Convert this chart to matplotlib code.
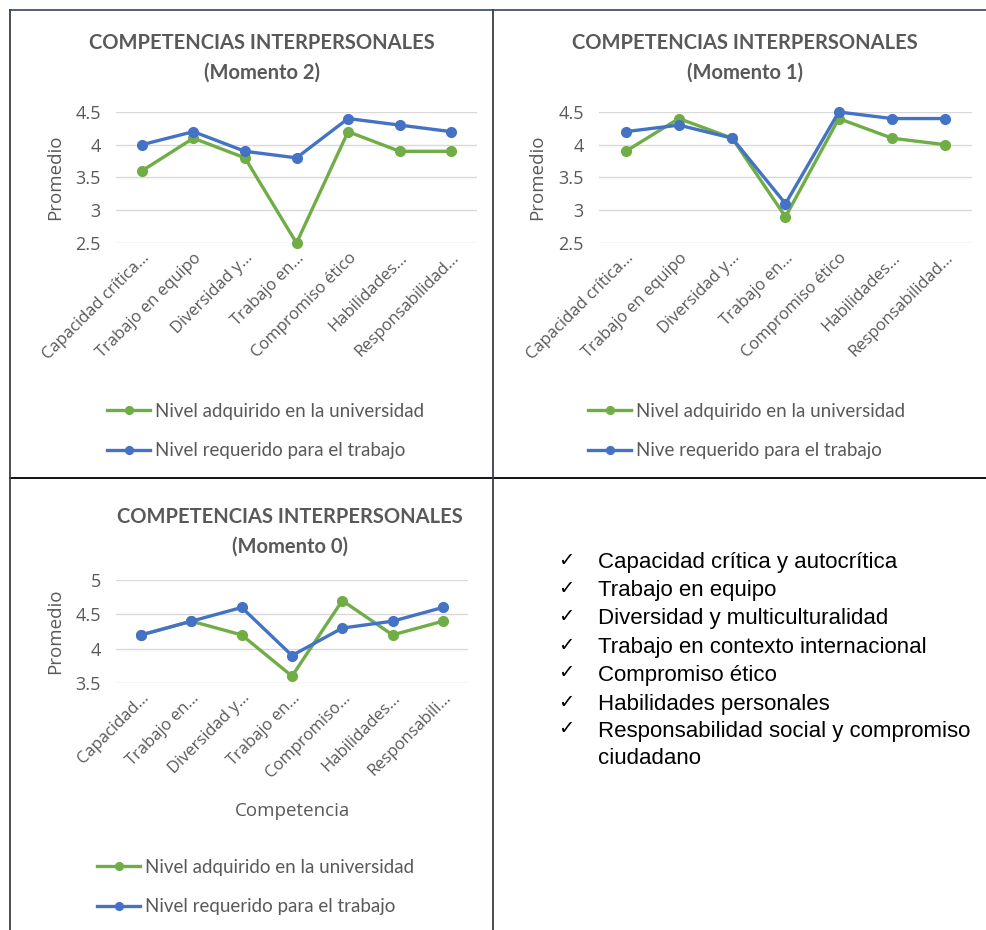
import matplotlib
matplotlib.use("Agg")
import matplotlib.pyplot as plt
from matplotlib.lines import Line2D

W, H = 987, 930

labels_full = ["Capacidad crítica…", "Trabajo en equipo", "Diversidad y…", "Trabajo en…",
               "Compromiso ético", "Habilidades…", "Responsabilidad…"]
labels_short = ["Capacidad…", "Trabajo en…", "Diversidad y…", "Trabajo en…",
                "Compromiso…", "Habilidades…", "Responsabili…"]

m2_adquirido = [3.6, 4.1, 3.8, 2.5, 4.2, 3.9, 3.9]
m2_requerido = [4.0, 4.2, 3.9, 3.8, 4.4, 4.3, 4.2]
m1_adquirido = [3.9, 4.4, 4.1, 2.9, 4.4, 4.1, 4.0]
m1_requerido = [4.2, 4.3, 4.1, 3.1, 4.5, 4.4, 4.4]
m0_adquirido = [4.2, 4.4, 4.2, 3.6, 4.7, 4.2, 4.4]
m0_requerido = [4.2, 4.4, 4.6, 3.9, 4.3, 4.4, 4.6]

competencias = ["Capacidad crítica y autocrítica", "Trabajo en equipo",
                "Diversidad y multiculturalidad", "Trabajo en contexto internacional",
                "Compromiso ético", "Habilidades personales",
                "Responsabilidad social y compromiso\nciudadano"]

GREEN = "#70AD47"
BLUE = "#4472C4"
GRAY = "#595959"
GRID = "#D9D9D9"

fig = plt.figure(figsize=(W / 100, H / 100), dpi=100)
fig.patch.set_facecolor("white")


def rect(x0, y0, x1, y1):
    return [x0 / W, 1 - y1 / H, (x1 - x0) / W, (y1 - y0) / H]


def fx(x):
    return x / W


def fy(y):
    return 1 - y / H


def panel(r, adq, req, labels, ylim, yticks, title, title_xy, ylabel_x, leg_xy,
          leg_labels, xlabel=None):
    ax = fig.add_axes(rect(*r))
    x = list(range(len(labels)))
    ax.plot(x, adq, color=GREEN, lw=2.4, marker="o", ms=7, label=leg_labels[0],
            zorder=3, clip_on=False)
    ax.plot(x, req, color=BLUE, lw=2.4, marker="o", ms=7, label=leg_labels[1],
            zorder=3, clip_on=False)
    ax.set_xlim(-0.5, len(labels) - 0.5)
    ax.set_ylim(*ylim)
    ax.set_yticks(yticks)
    ax.set_yticklabels([f"{v:g}" for v in yticks], fontsize=13, color=GRAY,
                       family="Open Sans")
    ax.set_xticks(x)
    ax.set_xticklabels(labels, rotation=45, ha="right", rotation_mode="anchor",
                       fontsize=12, color=GRAY, family="Open Sans")
    ax.tick_params(axis="y", length=0, pad=11)
    ax.tick_params(axis="x", length=0, pad=5)
    ax.grid(axis="y", color=GRID, lw=1)
    ax.set_axisbelow(True)
    for s in ax.spines.values():
        s.set_visible(False)
    fig.text(fx(ylabel_x), fy((r[1] + r[3]) / 2), "Promedio", rotation=90,
             ha="center", va="center", fontsize=13.5, color=GRAY, family="Open Sans")
    fig.text(fx(title_xy[0]), fy(title_xy[1]), title, ha="center", va="center",
             fontsize=14.5, fontweight="bold", color=GRAY, family="Lato",
             linespacing=1.6, multialignment="center")
    if xlabel:
        fig.text(fx(xlabel[0]), fy(xlabel[1]), xlabel[2], ha="center", va="center",
                 fontsize=13.5, color=GRAY, family="Open Sans")
    ax.legend(loc="center left", bbox_to_anchor=(fx(leg_xy[0]), fy(leg_xy[1])),
              bbox_transform=fig.transFigure, frameon=False, borderpad=0,
              borderaxespad=0, handlelength=2.3, handletextpad=0.27,
              labelspacing=1.22, markerscale=0.8,
              prop={"family": "Lato", "size": 13.5}, labelcolor=GRAY)
    return ax


panel((116, 112, 477, 243), m2_adquirido, m2_requerido, labels_full, (2.5, 4.5),
      [2.5, 3, 3.5, 4, 4.5], "COMPETENCIAS INTERPERSONALES\n(Momento 2)", (262, 58),
      55, (107, 431), ["Nivel adquirido en la universidad", "Nivel requerido para el trabajo"])

panel((599, 112, 972, 243), m1_adquirido, m1_requerido, labels_full, (2.5, 4.5),
      [2.5, 3, 3.5, 4, 4.5], "COMPETENCIAS INTERPERSONALES\n(Momento 1)", (745, 58),
      537, (588, 431), ["Nivel adquirido en la universidad", "Nive requerido para el trabajo"])

panel((116, 580, 468, 683), m0_adquirido, m0_requerido, labels_short, (3.5, 5),
      [3.5, 4, 4.5, 5], "COMPETENCIAS INTERPERSONALES\n(Momento 0)", (290, 531.5),
      55, (97, 887), ["Nivel adquirido en la universidad", "Nivel requerido para el trabajo"],
      xlabel=(292, 811, "Competencia"))

# right-hand list
line_y = [560, 588, 616, 645, 673, 702, 729]
for y, txt in zip(line_y, competencias):
    fig.text(fx(558), fy(y), "✓", ha="left", va="center", fontsize=14,
             family="DejaVu Sans", color="#000000")
    fig.text(fx(598), fy(y - 8), txt, ha="left", va="top", fontsize=16,
             family="Liberation Sans", color="#000000", linespacing=1.4)

# table borders
border = dict(transform=fig.transFigure, lw=1.3)
fig.add_artist(Line2D([fx(10), fx(987)], [fy(10), fy(10)], color="#44546A", **border))
fig.add_artist(Line2D([fx(10), fx(987)], [fy(478), fy(478)], color="#000000", **border))
fig.add_artist(Line2D([fx(10), fx(10)], [fy(10), fy(930)], color="#3a3f4a", **border))
fig.add_artist(Line2D([fx(493), fx(493)], [fy(10), fy(930)], color="#3a3f4a", **border))

fig.savefig("out.png", dpi=100, facecolor="white")
